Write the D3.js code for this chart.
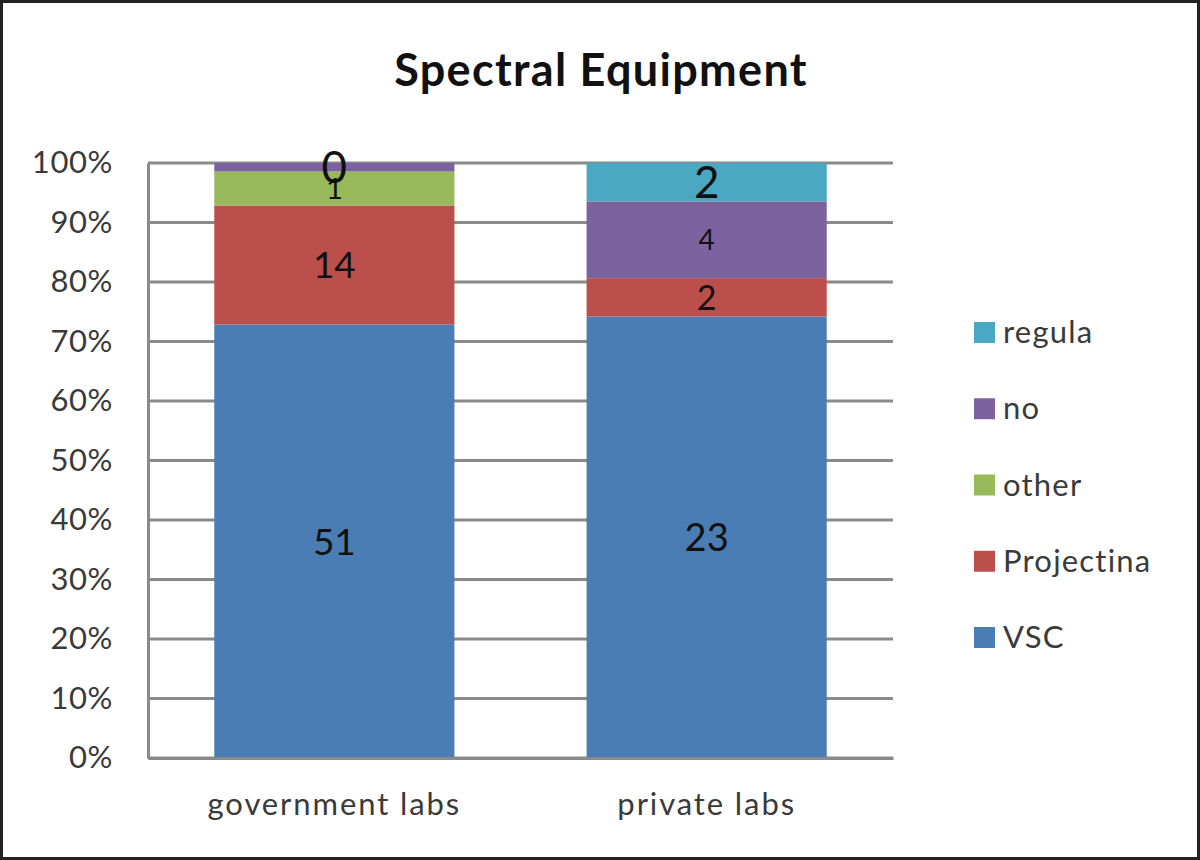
<!DOCTYPE html>
<html>
<head>
<meta charset="utf-8">
<script src="https://cdn.jsdelivr.net/npm/d3@7"></script>
<style>
  html, body { margin: 0; padding: 0; background: #fff; }
  svg { display: block; }
  text { font-family: Lato, "Open Sans", sans-serif; }
</style>
</head>
<body>
<div id="chart"></div>
<script>
// Chart data
let categories = ["government labs", "private labs"];
let seriesNames = ["VSC", "Projectina", "other", "no", "regula"];
let seriesColors = ["#4a7db4", "#bc4f4c", "#98b95a", "#7c63a0", "#4ba8c2"];

// segment counts (drawn heights) per series, one value per category
let vscValues = [51, 23];
let projectinaValues = [14, 2];
let otherValues = [4, 0];
let noValues = [1, 4];
let regulaValues = [0, 2];

// data labels as printed on the bars ("" = no label)
let vscLabels = ["51", "23"];
let projectinaLabels = ["14", "2"];
let otherLabels = ["1", ""];
let noLabels = ["0", "4"];
let regulaLabels = ["", "2"];

let yTicks = [0, 0.1, 0.2, 0.3, 0.4, 0.5, 0.6, 0.7, 0.8, 0.9, 1];

let width = 1200;
let height = 860;
let margin = {left: 148, right: 307, top: 163, bottom: 102};

let allValues = [vscValues, projectinaValues, otherValues, noValues, regulaValues];
let allLabels = [vscLabels, projectinaLabels, otherLabels, noLabels, regulaLabels];

// one row per category, keyed by series name
let rows = categories.map((c, i) => {
    let row = {category: c};
    seriesNames.forEach((s, j) => row[s] = allValues[j][i]);
    return row;
});

let stacked = d3.stack()
                .keys(seriesNames)
                .offset(d3.stackOffsetExpand)(rows);

let svg = d3.select("#chart")
            .append("svg")
            .attr("width", width)
            .attr("height", height);

// outer frame
svg.append("rect")
    .attr("x", 1.5).attr("y", 1.5)
    .attr("width", width - 3).attr("height", height - 3)
    .attr("fill", "#fff")
    .attr("stroke", "#222")
    .attr("stroke-width", 3);

let xScale = d3.scaleBand()
                .domain(categories)
                .range([margin.left, width - margin.right])
                .paddingInner(0.355)
                .paddingOuter(0.178);

let yScale = d3.scaleLinear()
                .domain([0, 1])
                .range([height - margin.bottom, margin.top]);

// gridlines
svg.append("g")
    .selectAll("line")
    .data(yTicks)
    .enter()
    .append("line")
    .attr("x1", margin.left)
    .attr("x2", width - margin.right)
    .attr("y1", d => yScale(d))
    .attr("y2", d => yScale(d))
    .attr("stroke", "#8a8a8a")
    .attr("stroke-width", 3);

// y axis
let yAxis = d3.axisLeft(yScale)
                .tickValues(yTicks)
                .tickFormat(d3.format(".0%"))
                .tickSize(0)
                .tickPadding(35);

let yG = svg.append("g")
    .attr("transform", "translate(" + margin.left + ",0)")
    .call(yAxis);
yG.select(".domain").attr("stroke", "#8a8a8a").attr("stroke-width", 3);
yG.selectAll("text")
    .attr("font-size", 31)
    .attr("letter-spacing", 0.6)
    .attr("fill", "#3a3a3a")
    .attr("font-family", "Lato, sans-serif");

// bars
let layers = svg.append("g")
    .selectAll("g")
    .data(stacked)
    .enter()
    .append("g")
    .attr("fill", (d, i) => seriesColors[i]);

layers.selectAll("rect")
    .data(d => d)
    .enter()
    .append("rect")
    .attr("x", d => xScale(d.data.category))
    .attr("width", xScale.bandwidth())
    .attr("y", d => yScale(d[1]))
    .attr("height", d => yScale(d[0]) - yScale(d[1]));

// x axis
let xAxis = d3.axisBottom(xScale).tickSize(0).tickPadding(35);
let xG = svg.append("g")
    .attr("transform", "translate(0," + (height - margin.bottom) + ")")
    .call(xAxis);
xG.select(".domain").attr("stroke", "#8a8a8a").attr("stroke-width", 3);
xG.selectAll("text")
    .attr("font-size", 31)
    .attr("letter-spacing", 1.9)
    .attr("fill", "#3a3a3a")
    .attr("font-family", "Lato, sans-serif");

// data labels (sizes vary in the original)
let labelSize = [[37, 38], [37, 34], [29, 29], [44, 28], [44, 44]];

stacked.forEach((layer, j) => {
    svg.append("g")
        .selectAll("text")
        .data(layer)
        .enter()
        .append("text")
        .attr("x", d => xScale(d.data.category) + xScale.bandwidth() / 2)
        .attr("y", d => yScale((d[0] + d[1]) / 2))
        .attr("dy", "0.36em")
        .attr("text-anchor", "middle")
        .attr("font-size", (d, i) => labelSize[j][i])
        .attr("fill", "#111")
        .text((d, i) => allLabels[j][i]);
});

// title
svg.append("text")
    .attr("x", 601)
    .attr("y", 86)
    .attr("text-anchor", "middle")
    .attr("font-size", 45)
    .attr("letter-spacing", 1.3)
    .attr("font-weight", "bold")
    .attr("fill", "#111")
    .text("Spectral Equipment");

// legend, top item is the last series
let legendOrder = seriesNames.map((s, i) => i).reverse();
let legendY = d3.scalePoint()
                .domain(legendOrder)
                .range([332, 637]);

let legend = svg.append("g")
    .selectAll("g")
    .data(legendOrder)
    .enter()
    .append("g")
    .attr("transform", d => "translate(974," + legendY(d) + ")");

legend.append("rect")
    .attr("x", 0)
    .attr("y", -10)
    .attr("width", 21)
    .attr("height", 21)
    .attr("fill", d => seriesColors[d]);

legend.append("text")
    .attr("x", 29)
    .attr("dy", "0.36em")
    .attr("font-size", 31)
    .attr("letter-spacing", 1.2)
    .attr("fill", "#3a3a3a")
    .text(d => seriesNames[d]);
</script>
</body>
</html>
